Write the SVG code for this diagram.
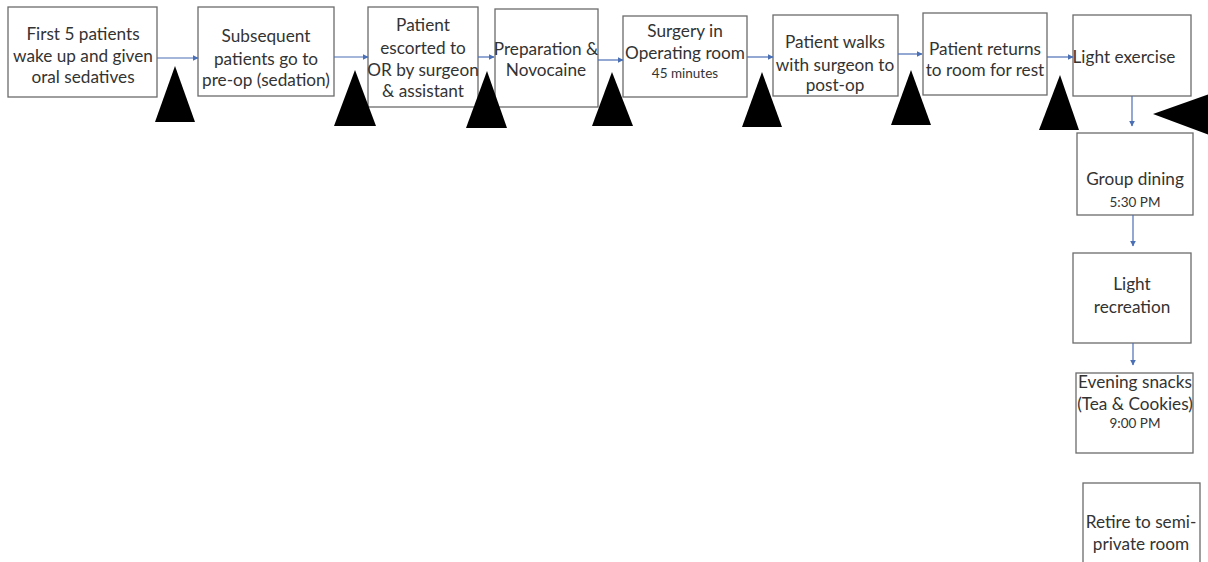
<svg xmlns="http://www.w3.org/2000/svg" width="1208" height="562" viewBox="0 0 1208 562">
<defs>
<style>
.box{fill:#fff;stroke:#6b6b6b;stroke-width:1.3}
.t{font-family:Lato,"Liberation Sans",sans-serif;font-size:17.2px;fill:#333;text-anchor:middle}
.s{font-family:Lato,"Liberation Sans",sans-serif;font-size:13.5px;fill:#333;text-anchor:middle}
.c{stroke:#4a6fb5;stroke-width:1.2;fill:none;marker-end:url(#ah)}
.tri{fill:#000}
</style>
<marker id="ah" viewBox="0 0 10 10" refX="9" refY="5" markerWidth="6" markerHeight="6" markerUnits="userSpaceOnUse" orient="auto">
<path d="M0,0 L10,5 L0,10 z" fill="#4a6fb5"/>
</marker>
</defs>
<rect width="1208" height="562" fill="#fff"/>
<g id="n1"><rect class="box" x="8" y="7" width="149" height="90"/>
<text class="t" x="83" y="40">First 5 patients</text><text class="t" x="83" y="62">wake up and given</text><text class="t" x="83" y="83">oral sedatives</text></g>
<g id="n2"><rect class="box" x="198" y="7" width="136" height="89"/>
<text class="t" x="266" y="42">Subsequent</text><text class="t" x="266" y="65">patients go to</text><text class="t" x="266" y="86">pre-op (sedation)</text></g>
<g id="n3"><rect class="box" x="368" y="7" width="110" height="100"/>
<text class="t" x="423" y="31">Patient</text><text class="t" x="423" y="54">escorted to</text><text class="t" x="423" y="76">OR by surgeon</text><text class="t" x="423" y="97">&amp; assistant</text></g>
<g id="n4"><rect class="box" x="495" y="9" width="103" height="98"/>
<text class="t" x="546" y="55">Preparation &amp;</text><text class="t" x="546" y="76">Novocaine</text></g>
<g id="n5"><rect class="box" x="623" y="16" width="124" height="81"/>
<text class="t" x="685" y="37">Surgery in</text><text class="t" x="685" y="59">Operating room</text><text class="s" x="685" y="78">45 minutes</text></g>
<g id="n6"><rect class="box" x="773" y="15" width="125" height="81"/>
<text class="t" x="835" y="48">Patient walks</text><text class="t" x="835" y="71">with surgeon to</text><text class="t" x="835" y="91">post-op</text></g>
<g id="n7"><rect class="box" x="923" y="13" width="124" height="82"/>
<text class="t" x="985" y="55">Patient returns</text><text class="t" x="985" y="76">to room for rest</text></g>
<g id="n8"><rect class="box" x="1073" y="15" width="118" height="81"/>
<text class="t" x="1124" y="63">Light exercise</text></g>
<g id="n9"><rect class="box" x="1077" y="133" width="116" height="82"/>
<text class="t" x="1135" y="185">Group dining</text><text class="s" x="1135" y="207">5:30 PM</text></g>
<g id="n10"><rect class="box" x="1073" y="253" width="118" height="90"/>
<text class="t" x="1132" y="290">Light</text><text class="t" x="1132" y="313">recreation</text></g>
<g id="n11"><rect class="box" x="1076" y="373" width="117" height="80"/>
<text class="t" x="1135" y="388">Evening snacks</text><text class="t" x="1135" y="410">(Tea &amp; Cookies)</text><text class="s" x="1135" y="428">9:00 PM</text></g>
<g id="n12"><rect class="box" x="1083" y="483" width="117" height="90"/>
<text class="t" x="1141" y="528">Retire to semi-</text><text class="t" x="1141" y="550">private room</text></g>
<g id="connectors">
<line class="c" x1="157" y1="58" x2="198" y2="58"/>
<line class="c" x1="334" y1="57" x2="368" y2="57"/>
<line class="c" x1="478" y1="57" x2="494" y2="57"/>
<line class="c" x1="598" y1="60" x2="623" y2="60"/>
<line class="c" x1="747" y1="57" x2="773" y2="57"/>
<line class="c" x1="898" y1="54" x2="922" y2="54"/>
<line class="c" x1="1047" y1="57" x2="1073" y2="57"/>
<line class="c" x1="1132" y1="96" x2="1132" y2="126"/>
<line class="c" x1="1133" y1="215" x2="1133" y2="246"/>
<line class="c" x1="1133" y1="343" x2="1133" y2="365"/>
</g>
<g id="triangles">
<polygon class="tri" points="175,66 155,122 195,122"/>
<polygon class="tri" points="355,70 334,126 376,126"/>
<polygon class="tri" points="487,71 466,128 507,128"/>
<polygon class="tri" points="612,72 592,126 633,126"/>
<polygon class="tri" points="762,72 742,127 782,127"/>
<polygon class="tri" points="911,70 891,125 931,125"/>
<polygon class="tri" points="1060,75 1039,130 1079,130"/>
<polygon class="tri" points="1153,114 1215,92 1215,137"/>
</g>
</svg>
